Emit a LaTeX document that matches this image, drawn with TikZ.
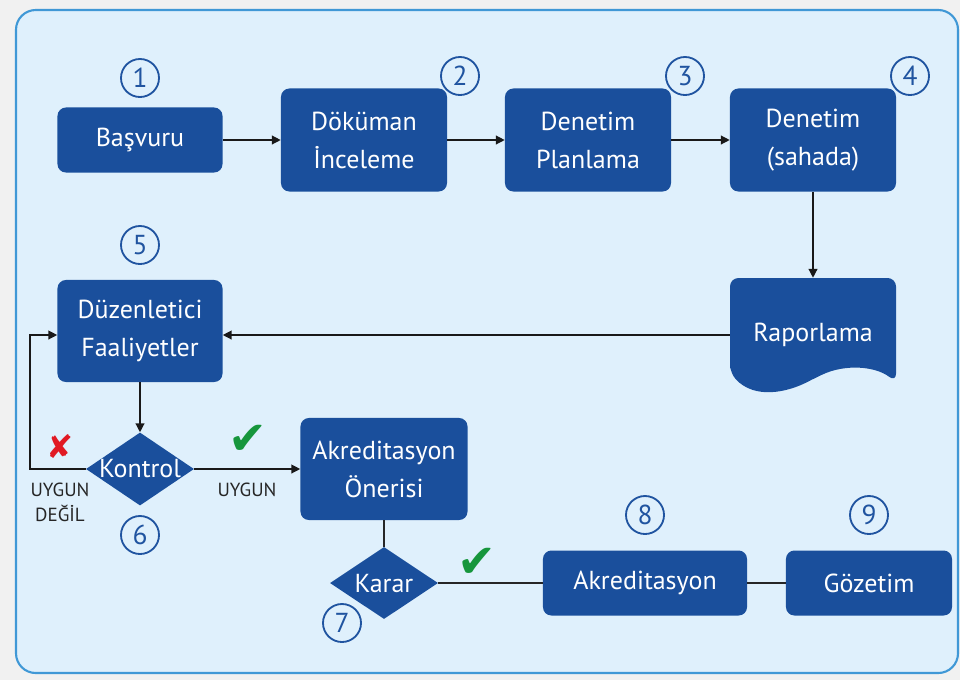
\documentclass[tikz,border=0pt]{standalone}
\usepackage{fontspec}
\setmainfont{PT Sans}
\newfontfamily\symfont{DejaVu Sans}
\usetikzlibrary{arrows.meta,positioning,shapes.geometric}
\definecolor{boxblue}{RGB}{26,79,156}
\definecolor{numblue}{RGB}{32,84,160}
\definecolor{panelfill}{RGB}{223,240,252}
\definecolor{paneledge}{RGB}{64,152,214}
\definecolor{pagegrey}{RGB}{241,241,241}
\definecolor{okgreen}{RGB}{22,150,60}
\definecolor{nored}{RGB}{225,25,35}

\begin{document}
\begin{tikzpicture}[x=0.025cm, y=-0.025cm,
        stepbox/.style={fill=boxblue, text=white, rounded corners=6pt, minimum width=4.15cm, minimum height=2.575cm, align=center, font=\fontsize{18.5}{27}\selectfont},
        shortbox/.style={stepbox, minimum height=1.625cm},
        decision/.style={diamond, fill=boxblue, text=white, inner sep=0pt, minimum width=2.7cm, minimum height=1.825cm, font=\fontsize{18.5}{27}\selectfont},
        numcirc/.style={circle, draw=numblue, line width=1.3pt, text=numblue, inner sep=0pt, minimum size=0.95cm, font=\fontsize{19.5}{19.5}\selectfont},
        flow/.style={-{Triangle[length=2.2mm, width=2.2mm]}, line width=0.9pt, draw=black!90},
        link/.style={line width=0.9pt, draw=black!85},
        verdict/.style={font=\fontsize{13.5}{18}\selectfont, text=black!85, align=center},
        tick/.style={font=\symfont\fontsize{33}{33}\selectfont}
      ]
      \useasboundingbox (0,0) rectangle (960,680);
      \fill[pagegrey] (0,0) rectangle (960,680);
      \draw[fill=panelfill, draw=paneledge, line width=1.5pt, rounded corners=14pt] (16,10) rectangle (958,673);

      % top row
      \node[shortbox, minimum width=4.125cm] (basvuru) at (140,140) {Başvuru};
      \node[stepbox] (dokuman) at (364,140) {Döküman\\İnceleme};
      \node[stepbox] (plan) at (588,140) {Denetim\\Planlama};
      \node[stepbox] (sahada) at (813,140) {Denetim\\(sahada)};

      % document shape for the report
      \fill[boxblue, rounded corners=6pt] (730,373) -- (730,278) -- (896,278) -- (896,382)
        .. controls (875,366) and (845,364) .. (815,378)
        .. controls (788,392) and (755,400) .. (730,373) -- cycle;
      \node[stepbox, fill=none, minimum height=2.85cm] (rapor) at (813,335) {Raporlama};

      \node[stepbox, minimum width=4.125cm, minimum height=2.55cm] (duzen) at (140,331) {Düzenletici\\Faaliyetler};
      \node[decision] (kontrol) at (140,469) {\makebox[1cm]{Kontrol}};
      \node[stepbox, minimum width=4.175cm, minimum height=2.55cm] (oneri) at (384,469) {Akreditasyon\\Önerisi};
      \node[decision, minimum height=1.8cm] (karar) at (384,583) {\makebox[1cm]{Karar}};
      \node[shortbox, minimum width=5.1cm] (akred) at (645,583) {Akreditasyon};
      \node[shortbox] (gozetim) at (869,583) {Gözetim};

      % step numbers
      \node[numcirc] (n1) at (140,78) {1};
      \node[numcirc] (n2) at (460,76) {2};
      \node[numcirc] (n3) at (685,76) {3};
      \node[numcirc] (n4) at (910,76) {4};
      \node[numcirc] (n5) at (140,245) {5};
      \node[numcirc] (n6) at (140,535) {6};
      \node[numcirc] (n7) at (342,623) {7};
      \node[numcirc] (n8) at (645,515) {8};
      \node[numcirc] (n9) at (869,515) {9};

      % outcomes of the check
      \node[verdict] (degil) at (60,502) {UYGUN\\DEĞİL};
      \node[verdict] (uygun) at (247,490) {UYGUN};
      \node[tick, text=nored, font=\symfont\fontsize{23}{23}\selectfont] (ret) at (60,447) {✘};
      \node[tick, text=okgreen] (ok1) at (248,440) {✔};
      \node[tick, text=okgreen] (ok2) at (477,563) {✔};

      \coordinate (back) at (30,335);

      \draw[flow] (basvuru) -- (dokuman);
      \draw[flow] (dokuman) -- (plan);
      \draw[flow] (plan) -- (sahada);
      \draw[flow] (sahada) -- (rapor);
      \draw[flow] (rapor.west) -- (rapor.west -| duzen.east);
      \draw[flow] (duzen) -- (kontrol);
      \draw[flow] (kontrol) -- (oneri);
      \draw[flow] (kontrol.west) -| (back) -- (back -| duzen.west);
      \draw[link] (oneri) -- (karar);
      \draw[link] (karar) -- (akred);
      \draw[link] (akred) -- (gozetim);
    \end{tikzpicture}
\end{document}
